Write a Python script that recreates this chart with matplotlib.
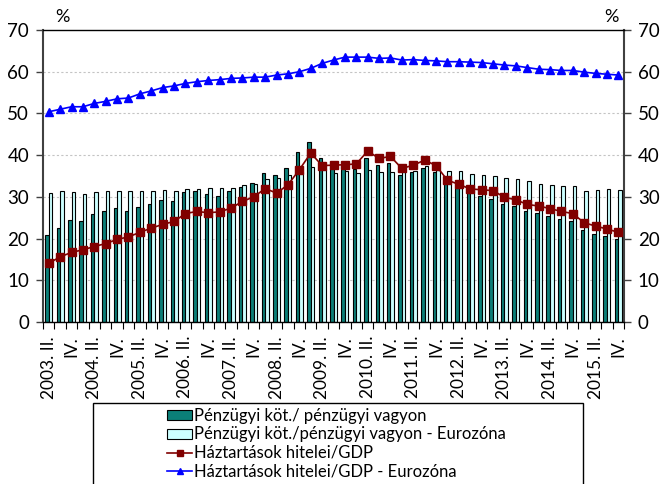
import matplotlib.pyplot as plt
from matplotlib.patches import Patch, Rectangle
from matplotlib.lines import Line2D
import numpy as np

plt.rcParams['font.family'] = ['Lato', 'DejaVu Sans']

# Quarterly series, 2003 Q2 - 2015 Q4 (%)
hu_liab_assets = [20.8, 22.5, 24.5, 24.2, 25.8, 26.6, 27.4, 26.7, 27.5, 28.2,
                  29.2, 28.9, 31.1, 31.4, 30.6, 30.3, 31.3, 32.3, 33.3, 35.7,
                  35.2, 36.9, 40.7, 43.1, 39.4, 36.9, 37.5, 36.7, 39.3, 37.6,
                  38.1, 35.3, 36.0, 37.0, 36.0, 33.2, 32.1, 30.9, 30.1, 29.4,
                  28.2, 27.7, 26.7, 26.1, 25.3, 24.7, 24.2, 22.0, 21.1, 20.5,
                  19.9]
ez_liab_assets = [31.0, 31.3, 31.1, 30.8, 31.2, 31.5, 31.5, 31.3, 31.5, 31.3,
                  31.7, 31.4, 32.0, 32.0, 32.1, 32.2, 32.1, 32.8, 33.2, 34.2,
                  34.6, 35.3, 35.9, 37.2, 36.6, 35.8, 36.1, 35.8, 36.4, 36.0,
                  35.9, 36.2, 36.3, 37.3, 36.4, 36.2, 36.2, 35.6, 35.2, 35.0,
                  34.6, 34.3, 33.7, 33.2, 32.8, 32.6, 32.5, 31.4, 31.6, 31.8,
                  31.7]
hu_loans_gdp = [14.1, 15.6, 16.7, 17.3, 18.1, 18.8, 19.8, 20.4, 21.5, 22.5,
                23.4, 24.1, 26.0, 26.5, 26.2, 26.4, 27.3, 28.9, 30.0, 32.0,
                30.9, 32.9, 36.5, 40.5, 37.5, 37.6, 37.7, 37.9, 41.0, 39.2,
                39.7, 36.8, 37.6, 38.8, 37.5, 34.0, 33.0, 31.9, 31.7, 31.5,
                29.9, 29.3, 28.2, 27.8, 27.2, 26.5, 26.0, 23.8, 23.0, 22.3,
                21.5]
ez_loans_gdp = [50.4, 51.0, 51.6, 51.6, 52.4, 52.9, 53.5, 53.7, 54.7, 55.4,
                56.2, 56.6, 57.2, 57.6, 57.9, 58.1, 58.4, 58.5, 58.7, 58.7,
                59.2, 59.5, 60.0, 60.8, 62.0, 62.8, 63.5, 63.5, 63.5, 63.2,
                63.3, 62.8, 62.9, 62.7, 62.6, 62.4, 62.4, 62.3, 62.2, 61.9,
                61.6, 61.4, 61.0, 60.6, 60.5, 60.3, 60.3, 59.9, 59.6, 59.4,
                59.2]

labels = ['Pénzügyi köt./ pénzügyi vagyon',
          'Pénzügyi köt./pénzügyi vagyon - Eurozóna',
          'Háztartások hitelei/GDP',
          'Háztartások hitelei/GDP - Eurozóna']

# tick labels: every second quarter, "YYYY. II." and "IV."
first_year = 2003
tick_pos = list(range(0, len(hu_liab_assets), 2))
tick_labels = []
for i in tick_pos:
    q = (i + 1) % 4
    year = first_year + (i + 1) // 4
    tick_labels.append(f'{year}. II.' if q == 1 else 'IV.')

teal = '#0B7F78'
cyan = '#CCFFFF'
red = '#800000'
blue = '#0000FF'

fig = plt.figure(figsize=(6.64, 4.84), dpi=100)
ax = fig.add_axes([0.0648, 0.3347, 0.875, 0.6033])

x = np.arange(len(hu_liab_assets))
w = 0.31
ax.bar(x - w / 2, hu_liab_assets, w, color=teal, edgecolor='black', linewidth=0.8, zorder=2)
ax.bar(x + w / 2, ez_liab_assets, w, color=cyan, edgecolor='black', linewidth=0.8, zorder=2)
ax.plot(x, hu_loans_gdp, color=red, marker='s', markersize=6, linewidth=1.2, zorder=3)
ax.plot(x, ez_loans_gdp, color=blue, marker='^', markersize=6, linewidth=1.2, zorder=3)

ax.set_xlim(-0.5, len(x) - 0.5)
ax.set_ylim(0, 70)
ax.set_yticks(range(0, 71, 10))
for v in range(10, 70, 10):
    ax.axhline(v, color='#C4C4C4', linestyle=(0, (2, 2)), linewidth=0.8, zorder=1)

ax.set_xticks(tick_pos)
ax.set_xticklabels(tick_labels, rotation=90, fontsize=12.5)
ax.set_xticks(np.arange(-0.5, len(x), 1), minor=True)
ax.tick_params(axis='x', which='major', length=0, pad=10)
ax.tick_params(axis='x', which='minor', length=5, direction='out', width=0.8)
ax.tick_params(axis='y', left=True, right=True, labelleft=True, labelright=True,
               length=5, width=1, labelsize=13.5, color='#404040', pad=5)

for side in ['left', 'right']:
    ax.spines[side].set_color('#404040')
    ax.spines[side].set_linewidth(1.5)
ax.spines['top'].set_linewidth(1)
ax.spines['bottom'].set_linewidth(1)

fig.text(62 / 664, 1 - 17 / 484, '%', fontsize=13, ha='center', va='center')
fig.text(611 / 664, 1 - 17 / 484, '%', fontsize=13, ha='center', va='center')

# legend in a framed box below the chart
fig.patches.append(Rectangle((93 / 664, -0.05), (583 - 93) / 664, 0.05 + 1 - 403 / 484,
                             transform=fig.transFigure, fill=False,
                             edgecolor='black', linewidth=1))
handles = [Patch(facecolor=teal, edgecolor='black', linewidth=0.8),
           Patch(facecolor=cyan, edgecolor='black', linewidth=0.8),
           Line2D([], [], color=red, marker='s', markersize=5, linewidth=1.2),
           Line2D([], [], color=blue, marker='^', markersize=5, linewidth=1.2)]
fig.legend(handles, labels, loc='upper left', bbox_to_anchor=(167 / 664, 1 - 408 / 484),
           frameon=False, fontsize=12, handlelength=1.5, handleheight=0.55,
           handletextpad=0.15, labelspacing=0.15, borderpad=0, borderaxespad=0)

fig.savefig('out.png', dpi=100)
